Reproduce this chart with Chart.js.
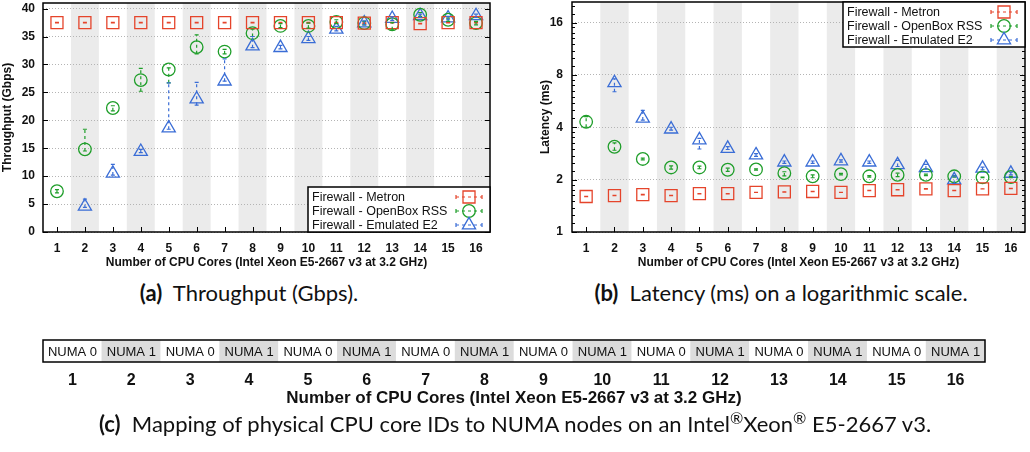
<!DOCTYPE html>
<html>
<head>
<meta charset="utf-8">
<script src="https://cdn.jsdelivr.net/npm/chart.js@4/dist/chart.umd.min.js"></script>
<style>
  body { margin: 0; background: #fff; width: 1030px; height: 452px; position: relative; overflow: hidden; }
  canvas { position: absolute; }
  .cap { position: absolute; font-family: Lato, "Open Sans", sans-serif; font-size: 22px; line-height: 24px;
         color: #111; white-space: nowrap; transform: translateX(-50%); }
  .cap sup { font-size: 16px; vertical-align: 8px; line-height: 0; }
</style>
</head>
<body>
<canvas id="tput" width="494" height="272" style="left:0;top:0"></canvas>
<canvas id="lat" width="510" height="272" style="left:520px;top:0"></canvas>
<canvas id="numa" width="1030" height="82" style="left:0;top:330px"></canvas>

<div class="cap" style="left:249px;top:281px"><b>(a)</b>&nbsp; Throughput (Gbps).</div>
<div class="cap" style="left:781px;top:281px"><b>(b)</b>&nbsp; Latency (ms) on a logarithmic scale.</div>
<div class="cap" style="left:515px;top:412px"><b>(c)</b>&nbsp; Mapping of physical CPU core IDs to NUMA nodes on an Intel<sup>&#174;</sup>Xeon<sup>&#174;</sup> E5-2667 v3.</div>

<script>
// ── Data ──
const cores = ['1', '2', '3', '4', '5', '6', '7', '8', '9', '10', '11', '12', '13', '14', '15', '16'];
const seriesNames = ['Firewall - Metron', 'Firewall - OpenBox RSS', 'Firewall - Emulated E2'];

// (a) throughput, Gbps
const tputTicks = [0, 5, 10, 15, 20, 25, 30, 35, 40];
const metronTput   = [37.5, 37.5, 37.5, 37.5, 37.5, 37.5, 37.5, 37.5, 37.5, 37.5, 37.5, 37.4, 37.5, 37.3, 37.5, 37.5];
const metronTputLo = [37.45, 37.45, 37.45, 37.45, 37.45, 37.45, 37.45, 37.45, 37.45, 37.45, 37.45, 37.35, 37.45, 37.25, 37.45, 37.45];
const metronTputHi = [37.55, 37.55, 37.55, 37.55, 37.55, 37.55, 37.55, 37.55, 37.55, 37.55, 37.55, 37.45, 37.55, 37.35, 37.55, 37.55];
const openboxTput   = [7.3, 14.8, 22.2, 27.2, 29.1, 33.1, 32.3, 35.6, 36.9, 36.9, 37.6, 37.4, 37.2, 38.9, 38.0, 37.4];
const openboxTputLo = [7.0, 14.5, 21.7, 25.2, 26.7, 31.9, 31.9, 35.0, 36.6, 36.5, 37.3, 37.1, 36.2, 38.6, 37.7, 37.1];
const openboxTputHi = [7.6, 18.4, 22.6, 29.3, 29.4, 35.3, 32.7, 36.3, 37.3, 37.4, 38.0, 37.7, 37.5, 39.3, 38.3, 37.7];
const e2Tput   = [null, 4.6, 10.5, 14.4, 18.6, 23.8, 27.0, 33.3, 33.0, 34.6, 36.3, 37.4, 38.2, 38.7, 38.3, 38.7];
const e2TputLo = [null, 4.4, 10.2, 14.2, 18.4, 22.7, 27.0, 33.0, 32.8, 34.3, 36.0, 37.1, 37.9, 38.4, 38.0, 38.4];
const e2TputHi = [null, 5.9, 12.1, 14.8, 26.7, 26.8, 31.0, 35.0, 33.4, 35.0, 36.8, 37.8, 38.5, 39.0, 38.6, 39.0];

// (b) latency, ms (log2 axis)
const latTicks = [1, 2, 4, 8, 16];
const metronLat   = [1.60, 1.62, 1.64, 1.62, 1.66, 1.66, 1.69, 1.70, 1.71, 1.69, 1.73, 1.75, 1.77, 1.73, 1.77, 1.78];
const metronLatLo = [1.597, 1.617, 1.635, 1.617, 1.657, 1.655, 1.687, 1.697, 1.707, 1.687, 1.727, 1.745, 1.765, 1.727, 1.767, 1.777];
const metronLatHi = [1.603, 1.623, 1.645, 1.623, 1.663, 1.665, 1.693, 1.703, 1.713, 1.693, 1.733, 1.755, 1.775, 1.733, 1.773, 1.783];
const openboxLat   = [4.30, 3.09, 2.63, 2.35, 2.35, 2.28, 2.29, 2.18, 2.09, 2.15, 2.09, 2.13, 2.13, 2.09, 2.06, 2.07];
const openboxLatLo = [4.00, 2.95, 2.60, 2.30, 2.31, 2.23, 2.27, 2.10, 2.05, 2.13, 2.07, 2.08, 2.11, 2.07, 2.05, 2.05];
const openboxLatHi = [4.60, 3.25, 2.66, 2.40, 2.39, 2.33, 2.31, 2.22, 2.13, 2.17, 2.11, 2.18, 2.15, 2.11, 2.07, 2.09];
const e2Lat   = [null, 7.2, 4.5, 3.9, 3.38, 3.02, 2.77, 2.52, 2.52, 2.56, 2.52, 2.43, 2.34, 1.99, 2.32, 2.17];
const e2LatLo = [null, 6.4, 4.4, 3.85, 3.0, 2.98, 2.72, 2.48, 2.48, 2.52, 2.48, 2.38, 2.30, 1.90, 2.28, 2.13];
const e2LatHi = [null, 7.6, 5.0, 4.0, 3.45, 3.10, 2.82, 2.56, 2.56, 2.60, 2.56, 2.58, 2.45, 2.10, 2.36, 2.21];

// (c) NUMA node per core
const numaNodes = [0, 1, 0, 1, 0, 1, 0, 1, 0, 1, 0, 1, 0, 1, 0, 1];

const red = '#e5442b';
const green = '#1f9e2a';
const blue = '#3a6dd6';
const band = '#ebebeb';
const axisFont = { family: 'Liberation Sans', size: 12, weight: 'bold' };
const xTitle = 'Number of CPU Cores (Intel Xeon E5-2667 v3 at 3.2 GHz)';

// marker geometry matches Chart.js pointStyle shapes
function marker(ctx, style, x, y, r) {
    ctx.beginPath();
    if (style === 'rect') {
        const s = Math.SQRT1_2 * r;
        ctx.rect(x - s, y - s, 2 * s, 2 * s);
    } else if (style === 'circle') {
        ctx.arc(x, y, r, 0, Math.PI * 2);
    } else {
        ctx.moveTo(x, y - r);
        ctx.lineTo(x + 0.866 * r, y + 0.5 * r);
        ctx.lineTo(x - 0.866 * r, y + 0.5 * r);
        ctx.closePath();
    }
    ctx.stroke();
}

// no extra room for first/last labels, the frame is fixed
function noPad(s) {
    s.paddingTop = 0; s.paddingBottom = 0; s.paddingLeft = 0; s.paddingRight = 0;
}

// gnuplot-like frame: grey bands, border, inward ticks, error bars, legend
const gnuFrame = {
    id: 'gnuFrame',
    beforeDraw(chart) {
        const { ctx, chartArea: a, scales: { x } } = chart;
        const w = a.width / cores.length;
        ctx.save();
        ctx.fillStyle = band;
        cores.forEach((c, i) => {
            if (i % 2 === 1) {
                const cx = x.getPixelForValue(i);
                ctx.fillRect(cx - w / 2, a.top, w, a.height);
            }
        });
        ctx.restore();
    },
    afterDatasetsDraw(chart, args, opts) {
        const { ctx, chartArea: a, scales: { x, y } } = chart;
        ctx.save();
        // error bars
        chart.data.datasets.forEach((ds, di) => {
            const meta = chart.getDatasetMeta(di);
            ctx.strokeStyle = ds.borderColor;
            ctx.lineWidth = 1.2;
            meta.data.forEach((pt, i) => {
                if (ds.data[i] == null) return;
                const y1 = y.getPixelForValue(ds.errLo[i]);
                const y2 = y.getPixelForValue(ds.errHi[i]);
                ctx.setLineDash([3, 3]);
                ctx.beginPath();
                ctx.moveTo(pt.x, y1);
                ctx.lineTo(pt.x, y2);
                ctx.stroke();
                ctx.setLineDash([]);
                ctx.beginPath();
                ctx.moveTo(pt.x - 2, y1); ctx.lineTo(pt.x + 2, y1);
                ctx.moveTo(pt.x - 2, y2); ctx.lineTo(pt.x + 2, y2);
                ctx.stroke();
            });
        });
        // border and ticks
        ctx.strokeStyle = '#000';
        ctx.lineWidth = 1.5;
        ctx.strokeRect(a.left, a.top, a.width, a.height);
        ctx.lineWidth = 1;
        ctx.beginPath();
        y.ticks.forEach(t => {
            const py = Math.round(y.getPixelForValue(t.value)) + 0.5;
            ctx.moveTo(a.left, py); ctx.lineTo(a.left + 5, py);
            ctx.moveTo(a.right - 5, py); ctx.lineTo(a.right, py);
        });
        if (opts.minor) {
            y.ticks.forEach(t => {
                for (let k = 1; k < 8; k++) {
                    const v = t.value * (1 + k / 8);
                    if (v >= y.max) break;
                    const py = Math.round(y.getPixelForValue(v)) + 0.5;
                    ctx.moveTo(a.left, py); ctx.lineTo(a.left + 3, py);
                    ctx.moveTo(a.right - 3, py); ctx.lineTo(a.right, py);
                }
            });
        }
        cores.forEach((c, i) => {
            const px = Math.round(x.getPixelForValue(i)) + 0.5;
            ctx.moveTo(px, a.bottom); ctx.lineTo(px, a.bottom - 5);
        });
        ctx.stroke();
        ctx.restore();
    },
    afterDraw(chart, args, opts) {
        const { ctx, chartArea: a } = chart;
        const w = 182, h = 45;
        const left = a.right - w;
        const top = opts.corner === 'top' ? a.top : a.bottom - h;
        ctx.save();
        ctx.fillStyle = '#fff';
        ctx.fillRect(left, top, w, h);
        ctx.strokeStyle = '#000';
        ctx.lineWidth = 1.5;
        ctx.strokeRect(left, top, w, h);
        ctx.font = '12.5px "Liberation Sans"';
        ctx.textBaseline = 'middle';
        chart.data.datasets.forEach((ds, i) => {
            const ry = top + 10 + i * 14;
            ctx.fillStyle = '#111';
            ctx.fillText(ds.label, left + 4, ry + 0.5);
            const cx = a.right - 21;
            ctx.strokeStyle = ds.borderColor;
            ctx.lineWidth = 1.2;
            ctx.setLineDash([3, 3]);
            ctx.beginPath();
            ctx.moveTo(cx - 13, ry); ctx.lineTo(cx + 13, ry);
            ctx.stroke();
            ctx.setLineDash([]);
            ctx.beginPath();
            ctx.moveTo(cx - 13, ry - 2); ctx.lineTo(cx - 13, ry + 2);
            ctx.moveTo(cx + 13, ry - 2); ctx.lineTo(cx + 13, ry + 2);
            ctx.stroke();
            ctx.lineWidth = 1.3;
            marker(ctx, ds.pointStyle, cx, ry, ds.pointRadius);
        });
        ctx.restore();
    }
};

function makeDatasets(metron, mLo, mHi, openbox, oLo, oHi, e2, eLo, eHi) {
    const common = { showLine: false, pointBackgroundColor: 'rgba(0,0,0,0)', pointBorderWidth: 1.3 };
    return [
        { ...common, label: seriesNames[0], data: metron, errLo: mLo, errHi: mHi,
          borderColor: red, pointBorderColor: red, pointStyle: 'rect', pointRadius: 8.5 },
        { ...common, label: seriesNames[1], data: openbox, errLo: oLo, errHi: oHi,
          borderColor: green, pointBorderColor: green, pointStyle: 'circle', pointRadius: 6.3 },
        { ...common, label: seriesNames[2], data: e2, errLo: eLo, errHi: eHi,
          borderColor: blue, pointBorderColor: blue, pointStyle: 'triangle', pointRadius: 7.6 }
    ];
}

function xScale() {
    return {
        type: 'category', offset: true,
        grid: { display: false }, border: { display: false },
        ticks: { font: axisFont, color: '#111', padding: 1, maxRotation: 0, autoSkip: false },
        title: { display: true, text: xTitle, font: axisFont, color: '#111', padding: { top: 0, bottom: 2 } },
        afterFit: s => { s.height = 40; noPad(s); }
    };
}

Chart.defaults.animation = false;

new Chart(document.getElementById('tput'), {
    type: 'line',
    data: { labels: cores, datasets: makeDatasets(metronTput, metronTputLo, metronTputHi,
        openboxTput, openboxTputLo, openboxTputHi, e2Tput, e2TputLo, e2TputHi) },
    plugins: [gnuFrame],
    options: {
        responsive: false, devicePixelRatio: 1, events: [],
        layout: { autoPadding: false, padding: { top: 3, right: 4, left: 0, bottom: 0 } },
        plugins: { legend: { display: false }, tooltip: { enabled: false }, gnuFrame: { corner: 'bottom' } },
        scales: {
            x: xScale(),
            y: {
                type: 'linear', min: 0, max: 41,
                afterBuildTicks: s => { s.ticks = tputTicks.map(v => ({ value: v })); },
                afterFit: s => { s.width = 43; noPad(s); },
                ticks: { font: axisFont, color: '#111', padding: 8 },
                grid: { color: '#b4b4b4', drawTicks: false },
                border: { display: false, dash: [1, 2] },
                title: { display: true, text: 'Throughput (Gbps)', font: axisFont, color: '#111', padding: { top: 0, bottom: 0 } }
            }
        }
    }
});

new Chart(document.getElementById('lat'), {
    type: 'line',
    data: { labels: cores, datasets: makeDatasets(metronLat, metronLatLo, metronLatHi,
        openboxLat, openboxLatLo, openboxLatHi, e2Lat, e2LatLo, e2LatHi) },
    plugins: [gnuFrame],
    options: {
        responsive: false, devicePixelRatio: 1, events: [],
        layout: { autoPadding: false, padding: { top: 2, right: 5, left: 0, bottom: 0 } },
        plugins: { legend: { display: false }, tooltip: { enabled: false }, gnuFrame: { corner: 'top', minor: true } },
        scales: {
            x: xScale(),
            y: {
                type: 'logarithmic', min: 1, max: 21,
                afterBuildTicks: s => { s.ticks = latTicks.map(v => ({ value: v })); },
                afterFit: s => { s.width = 52; noPad(s); },
                ticks: { font: axisFont, color: '#111', padding: 9, callback: v => String(v) },
                grid: { color: '#b4b4b4', drawTicks: false },
                border: { display: false, dash: [1, 2] },
                title: { display: true, text: 'Latency (ms)', font: axisFont, color: '#111', padding: { top: 18, bottom: 0 } }
            }
        }
    }
});

// (c) NUMA mapping strip
const numaCells = {
    id: 'numaCells',
    afterDatasetsDraw(chart) {
        const { ctx, chartArea: a } = chart;
        const meta = chart.getDatasetMeta(0);
        ctx.save();
        ctx.font = '13px "Liberation Sans"';
        ctx.fillStyle = '#111';
        ctx.textAlign = 'center';
        ctx.textBaseline = 'middle';
        meta.data.forEach((bar, i) => {
            ctx.fillText('NUMA ' + numaNodes[i], bar.x, (a.top + a.bottom) / 2 + 1);
        });
        ctx.strokeStyle = '#000';
        ctx.lineWidth = 1.5;
        ctx.strokeRect(a.left, a.top, a.width, a.height);
        ctx.restore();
    }
};

new Chart(document.getElementById('numa'), {
    type: 'bar',
    data: {
        labels: cores,
        datasets: [{
            data: numaNodes.map(() => 1),
            backgroundColor: numaNodes.map(n => n === 1 ? '#dcdcdc' : '#ffffff'),
            borderWidth: 0, barPercentage: 1, categoryPercentage: 1
        }]
    },
    plugins: [numaCells],
    options: {
        responsive: false, devicePixelRatio: 1, events: [],
        layout: { autoPadding: false, padding: { top: 10, right: 45, left: 43, bottom: 0 } },
        plugins: { legend: { display: false }, tooltip: { enabled: false } },
        scales: {
            x: {
                grid: { display: false }, border: { display: false },
                ticks: { font: { family: 'Liberation Sans', size: 16, weight: 'bold' }, color: '#111', padding: 1, maxRotation: 0 },
                title: { display: true, text: xTitle, font: { family: 'Liberation Sans', size: 17, weight: 'bold' },
                         color: '#111', padding: { top: 0, bottom: 3 } },
                afterFit: s => { s.height = 50; noPad(s); }
            },
            y: { display: false, min: 0, max: 1 }
        }
    }
});
</script>
</body>
</html>
